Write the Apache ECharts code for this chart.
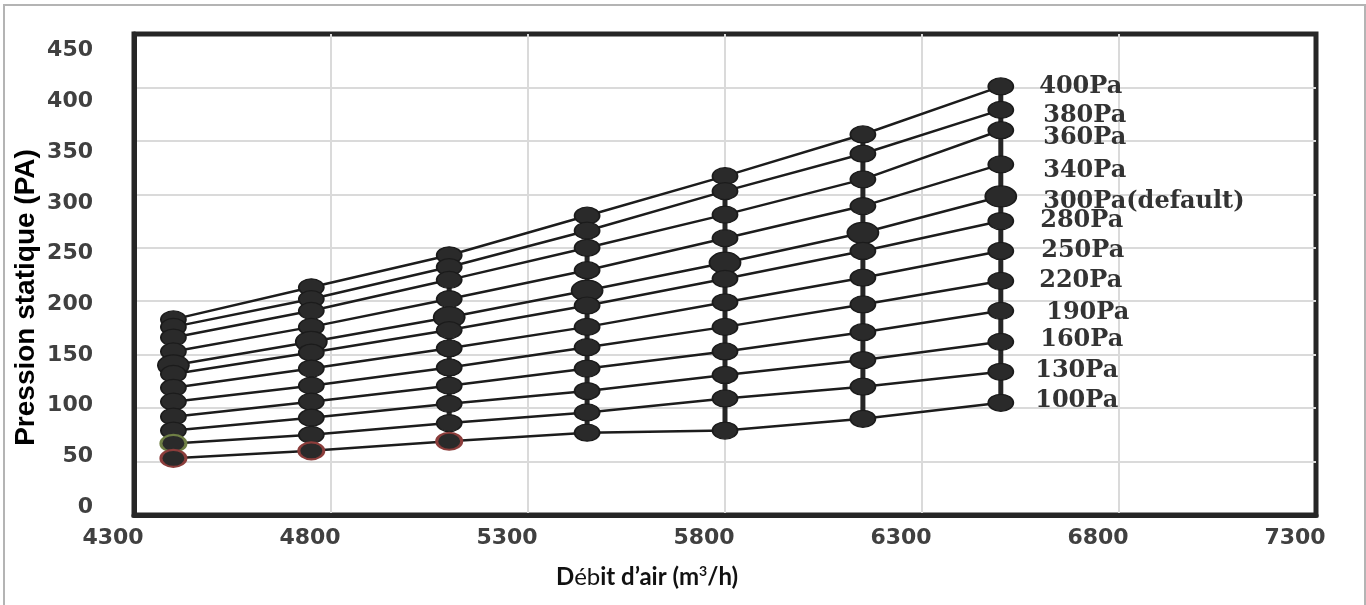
<!DOCTYPE html>
<html><head><meta charset="utf-8">
<script src="https://cdn.jsdelivr.net/npm/echarts@6/dist/echarts.min.js"></script>
<style>html,body{margin:0;padding:0;background:#fff}#c{width:1366px;height:605px}</style>
</head><body><div id="c"></div>
<script>
// ---- data ----
const airflow = [4400, 4750, 5100, 5450, 5800, 6150, 6500];
const xTicks = [4300, 4800, 5300, 5800, 6300, 6800, 7300];
const yTicks = [0, 50, 100, 150, 200, 250, 300, 350, 400, 450];
const seriesNames = ['400Pa', '380Pa', '360Pa', '340Pa', '300Pa(default)', '280Pa', '250Pa', '220Pa', '190Pa', '160Pa', '130Pa', '100Pa'];
const p400 = [183, 213, 243, 280, 317, 356, 401];
const p380 = [176, 202, 232, 266, 303, 338, 379];
const p360 = [166, 191, 220, 250, 281, 314, 360];
const p340 = [153, 176, 202, 229, 259, 289, 328];
const p300 = [140, 162, 185, 210, 236, 264, 298];
const p280 = [132, 152, 173, 196, 221, 247, 275];
const p250 = [119, 137, 156, 176, 199, 222, 247];
const p220 = [106, 121, 138, 157, 176, 197, 219];
const p190 = [92, 106, 121, 137, 153, 171, 191];
const p160 = [79, 91, 104, 116, 131, 145, 162];
const p130 = [67, 75, 86, 96, 109, 120, 134];
const p100 = [53, 60, 69, 77, 79, 90, 105];
const pressureSeries = [p400, p380, p360, p340, p300, p280, p250, p220, p190, p160, p130, p100];

// ---- styling (not data) ----
const labelNudgeX = [-2, 2, 2, 2, 2, -1, 0, -2, 5, -1, -6, -6];
const labelNudgeY = [0, 6, 8, 6, 5, 0, 0, 0, 2, -2, -1, -2];
const ringColors = { '100Pa': { 0: '#8b3d3b', 1: '#8b3d3b', 2: '#8b3d3b' }, '130Pa': { 0: '#6f7f45' } };
const DARK = '#262626';

const chart = echarts.init(document.getElementById('c'), null, { renderer: 'canvas' });

const series = [];
// vertical connectors per airflow column
airflow.forEach((x, j) => {
  series.push({
    type: 'line', name: 'col' + j, silent: true, symbol: 'none', z: 2,
    data: [[x, p400[j]], [x, p100[j]]],
    lineStyle: { color: DARK, width: 5 }
  });
});
// pressure setting lines
pressureSeries.forEach((vals, i) => {
  const name = seriesNames[i];
  const big = name.indexOf('default') >= 0;
  const rings = ringColors[name] || {};
  series.push({
    type: 'line', name: name, z: 3,
    symbol: 'circle',
    symbolSize: big ? [31, 21] : [25, 17],
    itemStyle: { color: '#2a2a2a', borderColor: '#1b1b1b', borderWidth: 1.5 },
    lineStyle: { color: '#1c1c1c', width: 2.5 },
    data: airflow.map((x, j) => {
      const item = { value: [x, vals[j]] };
      if (rings[j]) item.itemStyle = { borderColor: rings[j], borderWidth: 2.5 };
      if (j === airflow.length - 1) {
        item.label = {
          show: true, position: 'right', distance: 27 - (big ? 3 : 0),
          offset: [labelNudgeX[i], labelNudgeY[i]],
          formatter: name,
          fontFamily: 'DejaVu Serif', fontWeight: 'bold', fontSize: 24, color: '#333333'
        };
      }
      return item;
    })
  });
});

chart.setOption({
  animation: false,
  backgroundColor: '#ffffff',
  graphic: [{
    type: 'rect', shape: { x: 4, y: 5, width: 1361, height: 640 },
    style: { fill: 'none', stroke: '#b4b4b4', lineWidth: 2 }, silent: true, z: -10
  }],
  grid: {
    left: 134, top: 34, right: 50, bottom: 90,
    show: true, borderColor: DARK, borderWidth: 5, backgroundColor: 'transparent'
  },
  xAxis: {
    type: 'value', min: 4300, max: 7300,
    name: '{b|D}{n|éb}{b|it d’air (m}{sup|3}{b|/h)}',
    nameLocation: 'middle', nameGap: 49,
    nameTextStyle: {
      padding: [0, 156, 0, 0],
      rich: {
        b: { fontFamily: 'Lato', fontWeight: 'bold', fontSize: 24, color: '#111' },
        n: { fontFamily: 'Lato', fontWeight: 'normal', fontSize: 24, color: '#111' },
        sup: { fontFamily: 'Lato', fontWeight: 'bold', fontSize: 14, color: '#111', padding: [0, 0, 13, 0] }
      }
    },
    axisLine: { show: true, onZero: false, lineStyle: { color: DARK, width: 5 } },
    axisTick: { show: false, customValues: xTicks },
    axisLabel: {
      customValues: xTicks, margin: 12, padding: [0, 42, 0, 0],
      formatter: (v) => String(v),
      fontFamily: 'DejaVu Sans', fontWeight: 'bold', fontSize: 22, color: '#404040'
    },
    splitLine: { show: true, showMinLine: false, showMaxLine: false, lineStyle: { color: '#dadada', width: 2 } }
  },
  yAxis: [{
    type: 'value', min: 0, max: 450, interval: 50,
    name: 'Pression statique (PA)', nameLocation: 'middle', nameGap: 94,
    nameTextStyle: { fontFamily: 'Liberation Sans', fontWeight: 'bold', fontSize: 28, color: '#000', padding: [0, 46, 0, 0] },
    axisLine: { show: true, onZero: false, lineStyle: { color: DARK, width: 5 } },
    axisTick: { show: false },
    axisLabel: { show: false },
    splitLine: { show: true, showMinLine: false, showMaxLine: false, lineStyle: { color: '#dadada', width: 2 } }
  }, {
    type: 'value', position: 'left', min: -7.7, max: 466.4,
    axisLine: { show: false }, axisTick: { show: false }, splitLine: { show: false },
    axisLabel: {
      customValues: yTicks, margin: 41,
      formatter: (v) => String(v),
      fontFamily: 'DejaVu Sans', fontWeight: 'bold', fontSize: 22, color: '#404040'
    }
  }],
  series: series
});
</script></body></html>
